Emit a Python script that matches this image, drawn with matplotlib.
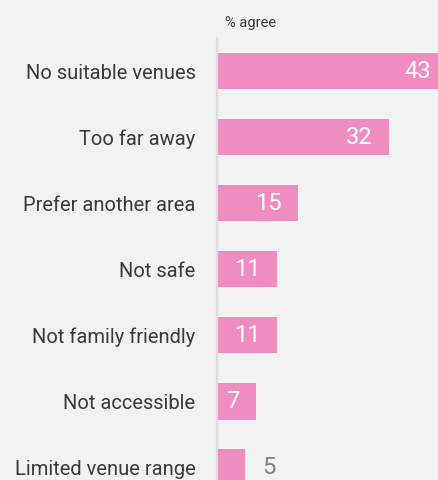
import matplotlib
matplotlib.use("Agg")
import matplotlib.pyplot as plt
from matplotlib import font_manager as fm

categories = ["No suitable venues", "Too far away", "Prefer another area", "Not safe",
              "Not family friendly", "Not accessible", "Limited venue range"]
values = [43, 32, 15, 11, 11, 7, 5]
axis_title = "% agree"

avail = {f.name for f in fm.fontManager.ttflist}
fam = ["Liberation Sans Narrow", "Roboto", "DejaVu Sans"]
fam = [f for f in fam if f in avail] or ["DejaVu Sans"]
plt.rcParams["font.family"] = fam

BG = "#f2f2f2"
PINK = "#f08dc0"
W, H = 439, 480
fig = plt.figure(figsize=(W / 100, H / 100), dpi=100, facecolor=BG)
ax = fig.add_axes([218.5 / W, 0, 1 - 218.5 / W, (H - 38) / H], facecolor=BG)

y = list(range(len(categories)))
ax.barh(y, values, height=0.55, color=PINK, left=0)
ax.set_xlim(0, (W - 218.5) / 5.33)
ax.set_ylim(6.19, -0.5)

for s in ["top", "right", "bottom"]:
    ax.spines[s].set_visible(False)
ax.spines["left"].set_color("#dddddd")
ax.spines["left"].set_linewidth(1.6)
ax.spines["left"].set_position(("outward", 1))
ax.set_xticks([])
ax.set_yticks(y)
ax.set_yticklabels(categories, fontsize=14.5, color="#3a3a3a")
ax.tick_params(axis="y", length=0, pad=15.5)

for yi, v in zip(y, values):
    if v >= 7:
        ax.annotate(str(v), (v, yi), xytext=(-12, 0), textcoords="offset points",
                    ha="right", va="center", fontsize=17, color="white",
                    annotation_clip=False)
    else:
        ax.annotate(str(v), (v, yi), xytext=(12, 0), textcoords="offset points",
                    ha="left", va="center", fontsize=17, color="#808080",
                    annotation_clip=False)

fig.text(225 / W, 1 - 23 / H, axis_title, fontsize=10.5, color="#3a3a3a",
         ha="left", va="center")

fig.savefig("out.png", dpi=100, facecolor=BG)
